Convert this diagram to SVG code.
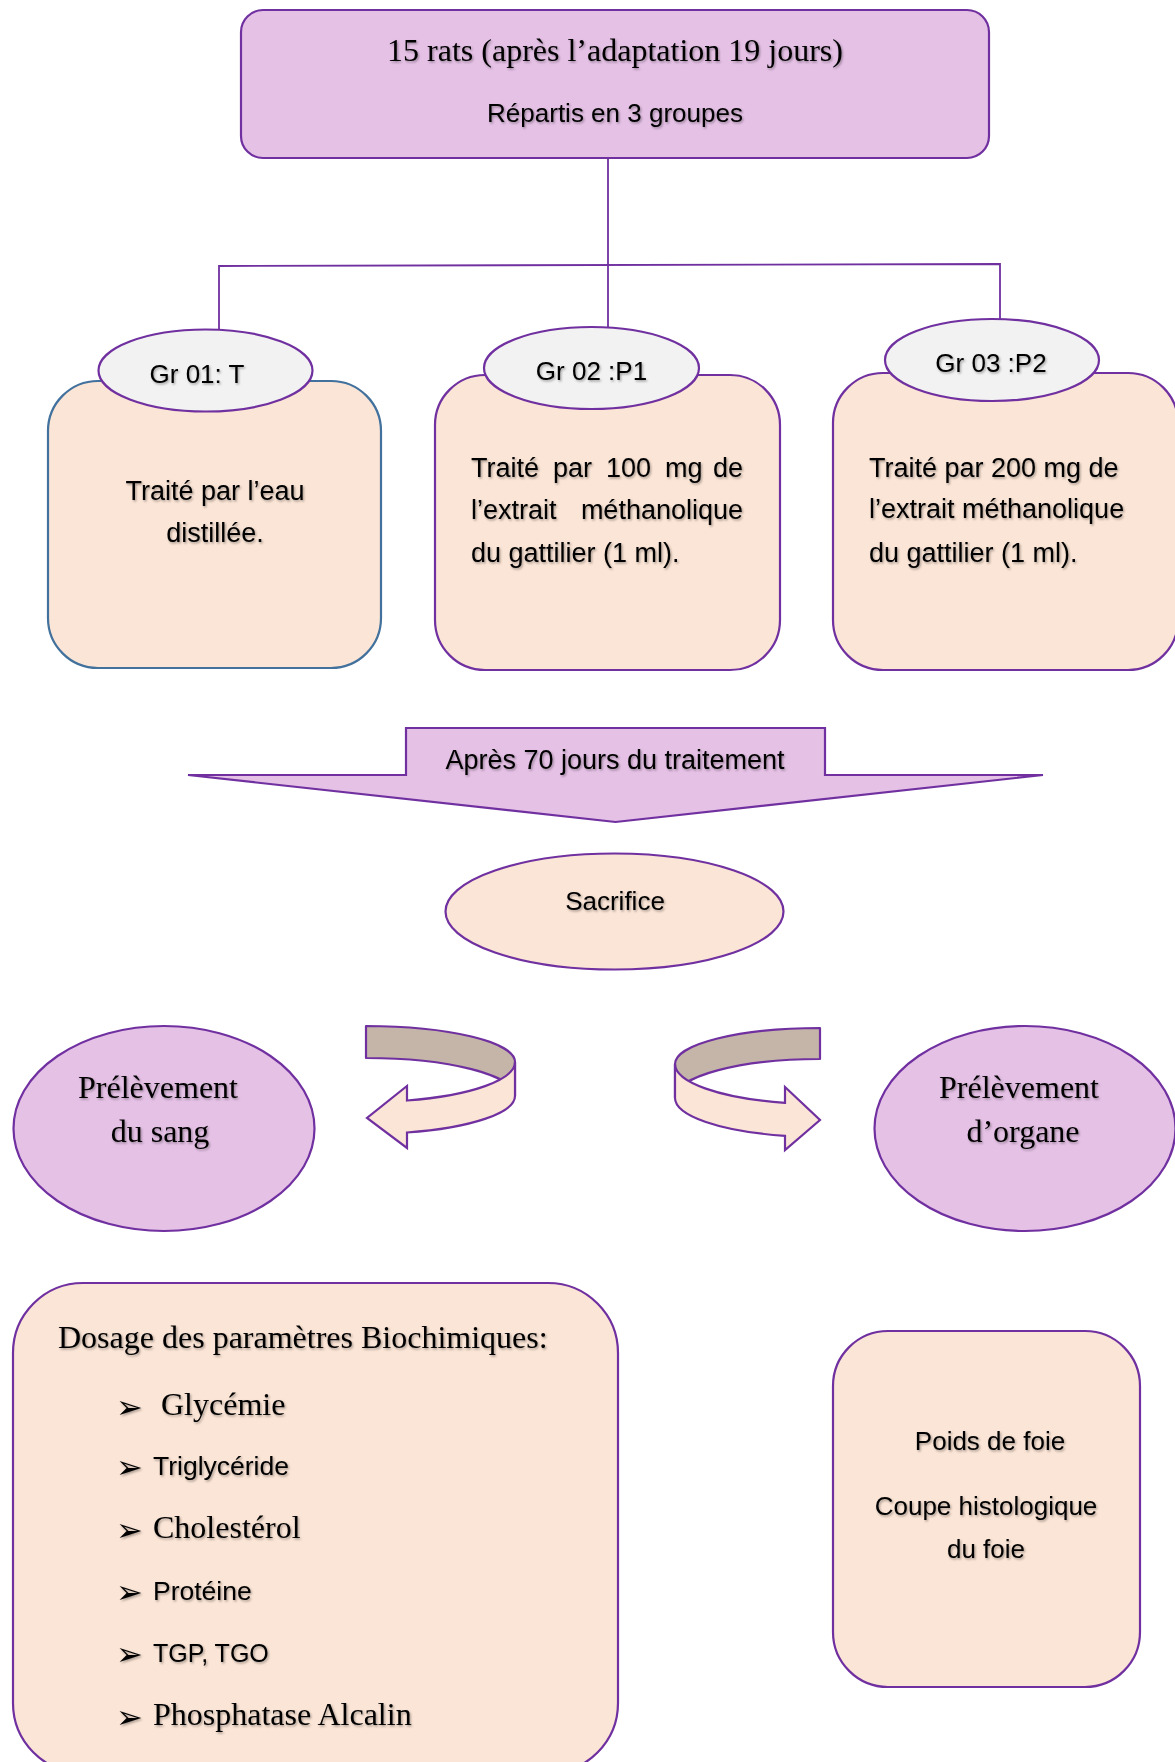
<svg xmlns="http://www.w3.org/2000/svg" width="1175" height="1762" viewBox="0 0 1175 1762">
<defs>
<filter id="sh" x="-10%" y="-30%" width="120%" height="160%">
<feDropShadow dx="1.2" dy="1.5" stdDeviation="1" flood-color="#000" flood-opacity="0.35"/>
</filter>
</defs>
<style>
.lav{fill:#E5C1E6;stroke:#7030A0;stroke-width:2.2}
.peach{fill:#FBE5D6;stroke:#7030A0;stroke-width:2.2}
.peachb{fill:#FBE5D6;stroke:#41719C;stroke-width:2.2}
.grey{fill:#F2F2F2;stroke:#7030A0;stroke-width:2.2}
.band{fill:#C4B5A8;stroke:#7030A0;stroke-width:2.2;stroke-linejoin:round}
.conn{fill:none;stroke:#7030A0;stroke-width:1.8}
text{filter:url(#sh)}
.s{font-family:"Liberation Sans",Arial,sans-serif;fill:#000}
.t{font-family:"Liberation Serif","Times New Roman",serif;fill:#000}
.m{text-anchor:middle}
.b{font-family:"DejaVu Sans",sans-serif;fill:#000}
</style>
<rect width="1175" height="1762" fill="#fff"/>
<g id="connectors">
<line class="conn" x1="608" y1="158" x2="608" y2="328"/>
<polyline class="conn" points="219,331 219,266 1000,264 1000,320"/>
</g>
<g id="top">
<rect class="lav" x="241" y="10" width="748" height="148" rx="22"/>
<text class="t m" x="615" y="61" font-size="32">15 rats (après l’adaptation 19 jours)</text>
<text class="s m" x="615" y="122" font-size="26">Répartis en 3 groupes</text>
</g>
<g id="gr01">
<rect class="peachb" x="48" y="381" width="333" height="287" rx="50"/>
<ellipse class="grey" cx="205.5" cy="370.5" rx="107" ry="41"/>
<text class="s m" x="197" y="383" font-size="26">Gr 01: T</text>
<text class="s m" x="215" y="500" font-size="27">Traité par l’eau</text>
<text class="s m" x="215" y="542" font-size="27">distillée.</text>
</g>
<g id="gr02">
<rect class="peach" x="435" y="375" width="345" height="295" rx="50"/>
<ellipse class="grey" cx="591.5" cy="368" rx="107.5" ry="41"/>
<text class="s m" x="591.5" y="380" font-size="26">Gr 02 :P1</text>
<text class="s" font-size="27" y="477"><tspan x="471">Traité</tspan><tspan x="553">par</tspan><tspan x="606">100</tspan><tspan x="665">mg</tspan><tspan x="713">de</tspan></text>
<text class="s" font-size="27" y="519"><tspan x="471">l’extrait</tspan><tspan x="743" text-anchor="end">méthanolique</tspan></text>
<text class="s" font-size="27" x="471" y="562">du gattilier (1 ml).</text>
</g>
<g id="gr03">
<rect class="peach" x="833" y="373" width="345" height="297" rx="50"/>
<ellipse class="grey" cx="992" cy="360" rx="107" ry="41"/>
<text class="s m" x="991" y="372" font-size="26">Gr 03 :P2</text>
<text class="s" font-size="27" x="869" y="477">Traité par 200 mg de</text>
<text class="s" font-size="27" x="869" y="518">l’extrait méthanolique</text>
<text class="s" font-size="27" x="869" y="562">du gattilier (1 ml).</text>
</g>
<g id="apres">
<polygon class="lav" points="406,728 825,728 825,775 1043,775 615.5,822 188,775 406,775"/>
<text class="s m" x="615" y="769" font-size="27">Après 70 jours du traitement</text>
</g>
<g id="sacrifice">
<ellipse class="peach" cx="614.5" cy="911.5" rx="169" ry="58"/>
<text class="s m" x="615" y="910" font-size="26">Sacrifice</text>
</g>
<g id="arrow-left">
<path class="band" d="M366,1026 A149,36 0 0 1 515,1062 L515,1096 A149,38 0 0 0 366,1058 Z"/>
<path class="peach" d="M515,1062 A149,40 0 0 1 407,1100.5 L407,1086 L367,1118 L407,1148 L407,1132.5 A149,38 0 0 0 515,1096 Z"/>
</g>
<g id="arrow-right">
<path class="band" d="M820,1028 A145,36 0 0 0 675,1064 L675,1098 A145,39 0 0 1 820,1059 Z"/>
<path class="peach" d="M675,1064 A145,40 0 0 0 785,1102.8 L785,1087 L820,1120 L785,1150 L785,1135.8 A145,39 0 0 1 675,1098 Z"/>
</g>
<g id="sang">
<ellipse class="lav" cx="164" cy="1128.5" rx="150.5" ry="102.5"/>
<text class="t m" x="158" y="1098" font-size="32">Prélèvement</text>
<text class="t m" x="160" y="1142" font-size="32">du sang</text>
</g>
<g id="organe">
<ellipse class="lav" cx="1025" cy="1128.5" rx="150.5" ry="102.5"/>
<text class="t m" x="1019" y="1098" font-size="32">Prélèvement</text>
<text class="t m" x="1023" y="1142" font-size="32">d’organe</text>
</g>
<g id="dosage">
<rect class="peach" x="13" y="1283" width="605" height="490" rx="70"/>
<text class="t" x="58" y="1348" font-size="32">Dosage des paramètres Biochimiques:</text>
<text class="b" x="116" y="1418" font-size="32">➢</text>
<text class="t" x="161" y="1415" font-size="32">Glycémie</text>
<text class="b" x="116" y="1478" font-size="32">➢</text>
<text class="s" x="153" y="1475" font-size="26.5">Triglycéride</text>
<text class="b" x="116" y="1541" font-size="32">➢</text>
<text class="t" x="153" y="1538" font-size="32">Cholestérol</text>
<text class="b" x="116" y="1603" font-size="32">➢</text>
<text class="s" x="153" y="1600" font-size="26.5">Protéine</text>
<text class="b" x="116" y="1665" font-size="32">➢</text>
<text class="s" x="153" y="1662" font-size="25">TGP, TGO</text>
<text class="b" x="116" y="1728" font-size="32">➢</text>
<text class="t" x="153" y="1725" font-size="32">Phosphatase Alcalin</text>
</g>
<g id="foie">
<rect class="peach" x="833" y="1331" width="307" height="356" rx="55"/>
<text class="s m" x="990" y="1450" font-size="26">Poids de foie</text>
<text class="s m" x="986" y="1515" font-size="26">Coupe histologique</text>
<text class="s m" x="986" y="1558" font-size="26">du foie</text>
</g>
</svg>
